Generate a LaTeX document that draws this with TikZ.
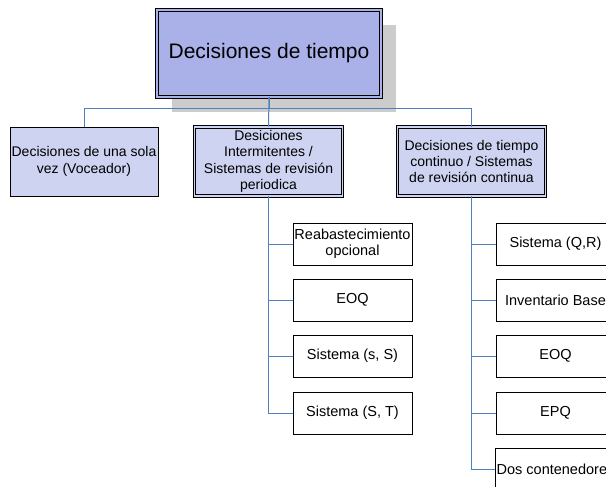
\documentclass[tikz,border=0pt]{standalone}
\usepackage{fontspec}
\setmainfont{Liberation Sans}
\usetikzlibrary{shadows}
\definecolor{topfill}{RGB}{170,176,232}
\definecolor{boxfill}{RGB}{205,211,240}
\definecolor{linkblue}{RGB}{79,129,189}

\begin{document}
\begin{tikzpicture}[x=1pt,y=-1pt,
  main/.style={draw,line width=0.8pt,double=topfill,double distance=1.5pt,fill=topfill,
    minimum width=224,minimum height=87,font=\fontsize{21}{24}\selectfont,
    general shadow={fill=black!20,shadow xshift=15pt,shadow yshift=-15pt}},
  cat/.style={draw,line width=0.8pt,fill=boxfill,minimum width=148,minimum height=69,
    inner sep=1pt,align=center,font=\fontsize{14}{16.3}\selectfont},
  catd/.style={cat,double=boxfill,double distance=1.5pt},
  leaf/.style={draw,line width=0.8pt,fill=white,minimum width=119,minimum height=42,
    inner sep=1pt,align=center,font=\fontsize{14.5}{16.5}\selectfont},
  link/.style={draw=linkblue,line width=1pt}
  ]
\useasboundingbox (0,0) rectangle (606,487);
\clip (0,0) rectangle (606,487);
\def\colB{352.5}
\def\colC{555.5}
\node[main] (top) at (269,53.5) {Decisiones de tiempo};                          % root
\node[cat] (once) at (84,161.5) {Decisiones de una sola\\vez (Voceador)};        % one time
\node[catd] (per) at (268.5,161.5) {Desiciones\\Intermitentes /\\Sistemas de revisión\\periodica};
\node[catd] (cont) at (471.5,161.5) {Decisiones de tiempo\\continuo / Sistemas\\de revisión continua};
\draw[link] (top.south) -- ++(0,11) -| (once.north);
\draw[link] (top.south) -- (per.north);
\draw[link] (top.south) -- ++(0,11) -| (cont.north);
% periodic review column
\foreach \name/\y/\txt in {p1/244/{Reabastecimiento\\opcional},p2/300/EOQ,p3/356/{Sistema (s, S)},p4/413/{Sistema (S, T)}}{
  \node[leaf] (\name) at (\colB,\y) {\txt};
  \draw[link] (per.south) |- (\name.west);
}
% continuous review column
\foreach \name/\y/\txt in {c1/244/{Sistema (Q,R)},c2/300/{Inventario Base},c3/356/EOQ,c4/413/EPQ,c5/469/{Dos contenedores}}{
  \node[leaf] (\name) at (\colC,\y) {\txt};
  \draw[link] (cont.south) |- (\name.west);
}
\end{tikzpicture}
\end{document}
